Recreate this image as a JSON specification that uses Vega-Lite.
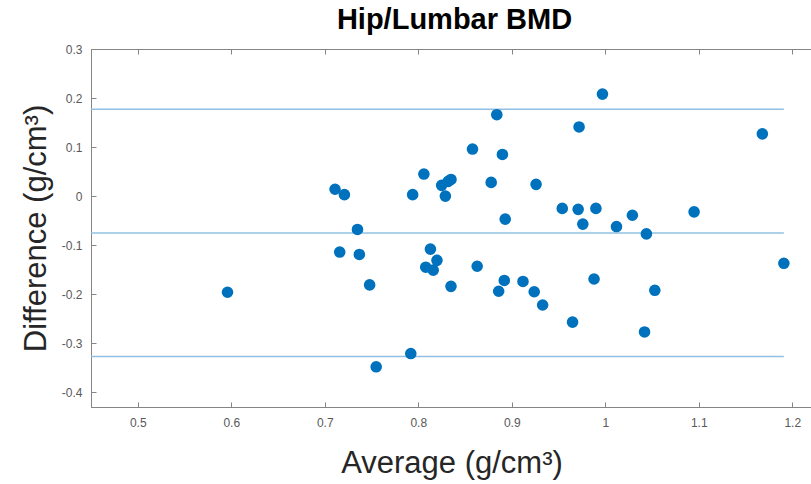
{
  "$schema": "https://vega.github.io/schema/vega-lite/v6.json",
  "width": 721,
  "height": 358,
  "autosize": "none",
  "padding": {"left": 91, "top": 49, "right": 0, "bottom": 77},
  "background": "white",
  "config": {
    "view": {"stroke": "#858585", "strokeWidth": 1},
    "axis": {
      "grid": false,
      "domainColor": "#858585",
      "tickColor": "#858585",
      "tickSize": -5,
      "labelFont": "Liberation Sans",
      "labelFontSize": 12,
      "labelColor": "#595959",
      "titleFont": "Liberation Sans",
      "titleFontSize": 31,
      "titleFontWeight": "normal",
      "titleColor": "#262626"
    }
  },
  "title": {
    "text": "Hip/Lumbar BMD",
    "font": "Liberation Sans",
    "fontSize": 29,
    "fontWeight": "bold",
    "color": "#000000",
    "anchor": "middle",
    "offset": 8,
    "dx": 3
  },
  "datasets": {
    "pts": [
      {"avg": 0.596, "diff": -0.196},
      {"avg": 0.711, "diff": 0.014},
      {"avg": 0.721, "diff": 0.003},
      {"avg": 0.735, "diff": -0.068},
      {"avg": 0.716, "diff": -0.114},
      {"avg": 0.737, "diff": -0.119},
      {"avg": 0.748, "diff": -0.181},
      {"avg": 0.755, "diff": -0.348},
      {"avg": 0.792, "diff": -0.321},
      {"avg": 0.794, "diff": 0.003},
      {"avg": 0.806, "diff": 0.045},
      {"avg": 0.825, "diff": 0.022},
      {"avg": 0.835, "diff": 0.034},
      {"avg": 0.832, "diff": 0.030},
      {"avg": 0.829, "diff": 0.0},
      {"avg": 0.858, "diff": 0.096},
      {"avg": 0.884, "diff": 0.166},
      {"avg": 0.890, "diff": 0.085},
      {"avg": 0.878, "diff": 0.028},
      {"avg": 0.926, "diff": 0.024},
      {"avg": 0.893, "diff": -0.047},
      {"avg": 0.813, "diff": -0.108},
      {"avg": 0.820, "diff": -0.131},
      {"avg": 0.808, "diff": -0.145},
      {"avg": 0.816, "diff": -0.151},
      {"avg": 0.835, "diff": -0.184},
      {"avg": 0.863, "diff": -0.143},
      {"avg": 0.892, "diff": -0.172},
      {"avg": 0.886, "diff": -0.194},
      {"avg": 0.912, "diff": -0.174},
      {"avg": 0.924, "diff": -0.195},
      {"avg": 0.933, "diff": -0.222},
      {"avg": 0.997, "diff": 0.208},
      {"avg": 0.972, "diff": 0.141},
      {"avg": 0.954, "diff": -0.025},
      {"avg": 0.971, "diff": -0.027},
      {"avg": 0.990, "diff": -0.025},
      {"avg": 0.976, "diff": -0.057},
      {"avg": 1.012, "diff": -0.062},
      {"avg": 1.029, "diff": -0.039},
      {"avg": 1.044, "diff": -0.077},
      {"avg": 1.095, "diff": -0.032},
      {"avg": 0.988, "diff": -0.169},
      {"avg": 1.053, "diff": -0.192},
      {"avg": 0.965, "diff": -0.257},
      {"avg": 1.042, "diff": -0.277},
      {"avg": 1.168, "diff": 0.127},
      {"avg": 1.191, "diff": -0.137}
    ],
    "lines": [
      {"level": 0.177},
      {"level": -0.075},
      {"level": -0.327}
    ]
  },
  "resolve": {"axis": {"x": "independent"}},
  "layer": [
    {
      "data": {"name": "lines"},
      "mark": {"type": "rule", "color": "#92c0e4", "strokeWidth": 1.5},
      "encoding": {
        "x": {
          "datum": 0.45,
          "type": "quantitative",
          "scale": {"domain": [0.45, 1.2211], "nice": false, "zero": false},
          "axis": {"orient": "top", "labels": false, "title": null, "values": [0.5, 0.6, 0.7, 0.8, 0.9, 1.0, 1.1, 1.2]}
        },
        "x2": {"datum": 1.191},
        "y": {"field": "level", "type": "quantitative"}
      }
    },
    {
      "data": {"name": "pts"},
      "mark": {"type": "circle", "size": 135, "color": "#0072bd", "opacity": 1},
      "encoding": {
        "x": {
          "field": "avg",
          "type": "quantitative",
          "scale": {"domain": [0.45, 1.2211], "nice": false, "zero": false},
          "axis": {
            "orient": "bottom",
            "title": "Average (g/cm³)",
            "values": [0.5, 0.6, 0.7, 0.8, 0.9, 1.0, 1.1, 1.2],
            "labelExpr": "'' + round(datum.value * 10) / 10",
            "labelPadding": 15,
            "titlePadding": 20
          }
        },
        "y": {
          "field": "diff",
          "type": "quantitative",
          "scale": {"domain": [-0.43, 0.3], "nice": false, "zero": false},
          "axis": {
            "title": "Difference (g/cm³)",
            "values": [-0.4, -0.3, -0.2, -0.1, 0, 0.1, 0.2, 0.3],
            "labelExpr": "'' + round(datum.value * 10) / 10",
            "labelPadding": 14,
            "titlePadding": 9
          }
        }
      }
    }
  ]
}
